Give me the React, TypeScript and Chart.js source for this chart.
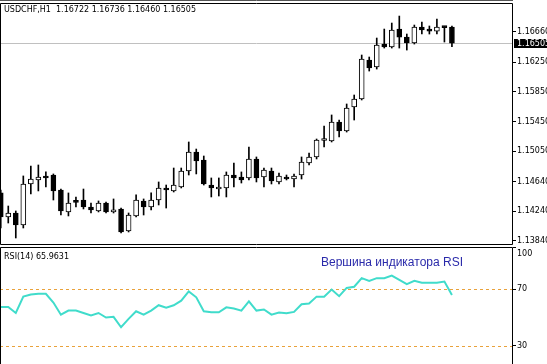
import React, { useEffect, useRef } from 'react';
import { Chart, registerables } from 'chart.js';

Chart.register(...registerables);

const SYMBOL_TITLE = 'USDCHF,H1  1.16722 1.16736 1.16460 1.16505';
const RSI_TITLE = 'RSI(14) 65.9631';
const RSI_NOTE = 'Вершина индикатора RSI';

const OPEN = [
  1.14487, 1.14163, 1.14217, 1.14055, 1.14608, 1.14662, 1.14702, 1.14729, 1.14527, 1.14231,
  1.14372, 1.14392, 1.14298, 1.14244, 1.14352, 1.14231, 1.14271, 1.13975, 1.14177, 1.14379,
  1.14298, 1.14392, 1.14554, 1.14514, 1.14567, 1.14783, 1.15039, 1.14931, 1.14594, 1.14540,
  1.14554, 1.14729, 1.14702, 1.14689, 1.14945, 1.14702, 1.14783, 1.14635, 1.14702, 1.14675,
  1.14729, 1.14891, 1.14972, 1.15194, 1.15187, 1.15443, 1.15322, 1.15645, 1.15753, 1.16279,
  1.16184, 1.16494, 1.16454, 1.16696, 1.16588, 1.16508, 1.16723, 1.16696, 1.16669, 1.16723,
  1.16722,
];
const HIGH = [
  1.14527, 1.14311, 1.14244, 1.14716, 1.14850, 1.14864, 1.14770, 1.14743, 1.14540, 1.14487,
  1.14433, 1.14540, 1.14352, 1.14379, 1.14365, 1.14406, 1.14284, 1.14217, 1.14460, 1.14406,
  1.14487, 1.14635, 1.14594, 1.14823, 1.14823, 1.15174, 1.15079, 1.14985, 1.14689, 1.14689,
  1.14770, 1.14891, 1.14770, 1.15106, 1.14972, 1.14823, 1.14823, 1.14756, 1.14729, 1.14743,
  1.14972, 1.15026, 1.15214, 1.15389, 1.15538, 1.15470, 1.15686, 1.15807, 1.16346, 1.16319,
  1.16575, 1.16696, 1.16777, 1.16871, 1.16629, 1.16750, 1.16791, 1.16737, 1.16831, 1.16730,
  1.16736,
];
const LOW = [
  1.14015, 1.14082, 1.13880, 1.14015, 1.14473, 1.14514, 1.14567, 1.14392, 1.14190, 1.14177,
  1.14298, 1.14271, 1.14217, 1.14231, 1.14217, 1.14217, 1.13948, 1.13961, 1.14163, 1.14190,
  1.14257, 1.14325, 1.14284, 1.14500, 1.14554, 1.14729, 1.14743, 1.14594, 1.14433, 1.14446,
  1.14433, 1.14567, 1.14621, 1.14662, 1.14635, 1.14567, 1.14608, 1.14608, 1.14662, 1.14567,
  1.14675, 1.14864, 1.14945, 1.15106, 1.15174, 1.15241, 1.15308, 1.15470, 1.15740, 1.16130,
  1.16157, 1.16440, 1.16440, 1.16440, 1.16413, 1.16494, 1.16629, 1.16629, 1.16629, 1.16521,
  1.16460,
];
const CLOSE = [
  1.14163, 1.14217, 1.14055, 1.14608, 1.14675, 1.14702, 1.14689, 1.14514, 1.14244, 1.14352,
  1.14359, 1.14298, 1.14257, 1.14352, 1.14231, 1.14257, 1.13961, 1.14190, 1.14392, 1.14298,
  1.14392, 1.14554, 1.14527, 1.14594, 1.14783, 1.15039, 1.14918, 1.14608, 1.14554, 1.14567,
  1.14729, 1.14689, 1.14662, 1.14945, 1.14689, 1.14796, 1.14648, 1.14716, 1.14675, 1.14716,
  1.14904, 1.14972, 1.15201, 1.15207, 1.15443, 1.15322, 1.15632, 1.15753, 1.16292, 1.16171,
  1.16481, 1.16454, 1.16683, 1.16588, 1.16508, 1.16723, 1.16683, 1.16669, 1.16723, 1.16716,
  1.16505,
];

const RSI_VALUES = [
  57.4, 57.4, 53.2, 64.8, 66.3, 66.8, 66.8, 60.6, 52.0, 54.9,
  54.9, 53.2, 51.5, 53.2, 50.0, 50.5, 43.1, 49.0, 54.4, 52.0,
  54.9, 58.7, 56.9, 58.7, 61.9, 68.5, 64.3, 54.4, 53.7, 53.7,
  57.2, 56.4, 54.9, 61.4, 54.9, 55.7, 52.0, 53.5, 53.0, 54.0,
  59.4, 59.9, 64.8, 64.8, 69.8, 65.1, 71.0, 71.8, 77.9, 76.0,
  77.9, 77.9, 79.7, 76.7, 73.7, 76.0, 74.7, 74.7, 74.7, 75.5,
  65.96,
];

const PRICE_TICKS = [1.1666, 1.1625, 1.1585, 1.1545, 1.1505, 1.1464, 1.1424, 1.1384];
const PRICE_MIN = 1.13799;
const PRICE_MAX = 1.17047;
const LAST_PRICE = 1.16505;
const RSI_TICKS = [100, 70, 30];
const RSI_LEVELS = [70, 30];

const X_MIN = -0.1;
const X_MAX = 68.12;
const AXIS_FONT = { family: 'DejaVu Sans', size: 8 };

const mainDecor = {
  id: 'mainDecor',
  beforeDatasetsDraw(chart: any) {
    const { ctx, chartArea: a, scales } = chart;
    const y = Math.round(scales.y.getPixelForValue(LAST_PRICE)) + 0.5;
    ctx.save();
    ctx.strokeStyle = '#c0c0c0';
    ctx.lineWidth = 1;
    ctx.beginPath();
    ctx.moveTo(a.left, y);
    ctx.lineTo(a.right, y);
    ctx.stroke();
    ctx.restore();
  },
  afterDraw(chart: any) {
    const { ctx, chartArea: a, scales } = chart;
    ctx.save();
    ctx.strokeStyle = '#000';
    ctx.lineWidth = 1;
    ctx.beginPath();
    ctx.moveTo(a.left + 0.5, a.top + 0.5);
    ctx.lineTo(a.right - 0.5, a.top + 0.5);
    ctx.lineTo(a.right - 0.5, a.bottom + 0.5);
    ctx.lineTo(a.left + 0.5, a.bottom + 0.5);
    ctx.closePath();
    ctx.stroke();
    ctx.strokeStyle = '#555';
    ctx.beginPath();
    ctx.moveTo(0, 0.5);
    ctx.lineTo(a.right, 0.5);
    ctx.stroke();
    ctx.font = '8px "DejaVu Sans"';
    ctx.fillStyle = '#000';
    ctx.textBaseline = 'middle';
    ctx.textAlign = 'left';
    ctx.fillText(SYMBOL_TITLE, 4, a.top + 6.5);
    const y = scales.y.getPixelForValue(LAST_PRICE);
    ctx.fillStyle = '#000';
    ctx.fillRect(a.right + 1, Math.round(y) - 4, 40, 9);
    ctx.fillStyle = '#fff';
    ctx.fillText(LAST_PRICE.toFixed(5), a.right + 4, y + 0.5);
    ctx.restore();
  },
};

const rsiDecor = {
  id: 'rsiDecor',
  beforeDatasetsDraw(chart: any) {
    const { ctx, chartArea: a, scales } = chart;
    ctx.save();
    ctx.strokeStyle = '#E9A23B';
    ctx.lineWidth = 1;
    ctx.setLineDash([3, 3]);
    RSI_LEVELS.forEach((lv) => {
      const y = Math.round(scales.y.getPixelForValue(lv)) + 0.5;
      ctx.beginPath();
      ctx.moveTo(a.left, y);
      ctx.lineTo(a.right, y);
      ctx.stroke();
    });
    ctx.restore();
  },
  afterDraw(chart: any) {
    const { ctx, chartArea: a } = chart;
    ctx.save();
    ctx.strokeStyle = '#000';
    ctx.lineWidth = 1;
    ctx.beginPath();
    ctx.moveTo(a.left + 0.5, a.bottom);
    ctx.lineTo(a.left + 0.5, a.top + 0.5);
    ctx.lineTo(a.right - 0.5, a.top + 0.5);
    ctx.lineTo(a.right - 0.5, a.bottom);
    ctx.stroke();
    ctx.font = '8px "DejaVu Sans"';
    ctx.fillStyle = '#000';
    ctx.textBaseline = 'middle';
    ctx.textAlign = 'left';
    ctx.fillText(RSI_TITLE, 4, a.top + 9.5);
    ctx.font = '12px "Liberation Sans"';
    ctx.fillStyle = '#2a2aaa';
    ctx.fillText(RSI_NOTE, 321, a.top + 16);
    ctx.restore();
  },
};

const yAxisBase = {
  position: 'right' as const,
  grid: { drawOnChartArea: false, drawTicks: true, tickLength: 3, color: '#000', tickColor: '#000' },
  border: { display: false },
};

export default function App() {
  const mainRef = useRef<HTMLCanvasElement | null>(null);
  const rsiRef = useRef<HTMLCanvasElement | null>(null);

  useEffect(() => {
    const bodies = OPEN.map((o, i) => ({ x: i, y: [o, CLOSE[i]] }));
    const wicks = LOW.map((l, i) => ({ x: i, y: [l, HIGH[i]] }));
    const main = new Chart(mainRef.current as HTMLCanvasElement, {
      type: 'bar',
      data: {
        datasets: [
          {
            label: 'body',
            data: bodies as any,
            backgroundColor: OPEN.map((o, i) => (CLOSE[i] >= o ? '#ffffff' : '#000000')),
            borderColor: '#000',
            borderWidth: 1,
            borderSkipped: false,
            barThickness: 5,
            minBarLength: 2,
            grouped: false,
            order: 0,
          } as any,
          {
            label: 'wick',
            data: wicks as any,
            backgroundColor: '#000',
            borderWidth: 0,
            barThickness: 1,
            grouped: false,
            order: 1,
          } as any,
        ],
      },
      options: {
        animation: false,
        responsive: false,
        events: [],
        layout: { padding: { top: 3, bottom: 2, left: 0, right: 0 } },
        plugins: { legend: { display: false }, tooltip: { enabled: false }, title: { display: false } },
        scales: {
          x: { type: 'linear', min: X_MIN, max: X_MAX, display: false, offset: false },
          y: {
            ...yAxisBase,
            min: PRICE_MIN,
            max: PRICE_MAX,
            afterBuildTicks: (s: any) => {
              s.ticks = PRICE_TICKS.map((v) => ({ value: v }));
            },
            afterFit: (s: any) => {
              s.width = 34;
              s.paddingTop = 0;
              s.paddingBottom = 0;
            },
            ticks: {
              padding: 1,
              color: '#000',
              font: AXIS_FONT,
              autoSkip: false,
              maxRotation: 0,
              callback: (v: any) => Number(v).toFixed(5),
            },
          } as any,
        },
      },
      plugins: [mainDecor],
    });

    const rsi = new Chart(rsiRef.current as HTMLCanvasElement, {
      type: 'line',
      data: {
        datasets: [
          {
            label: 'RSI',
            data: RSI_VALUES.map((v, i) => ({ x: i, y: v })),
            borderColor: '#40DCCB',
            borderWidth: 2,
            pointRadius: 0,
            tension: 0,
            fill: false,
          },
        ],
      },
      options: {
        animation: false,
        responsive: false,
        events: [],
        layout: { padding: { top: 2, bottom: 3, left: 0, right: 0 } },
        plugins: { legend: { display: false }, tooltip: { enabled: false }, title: { display: false } },
        scales: {
          x: { type: 'linear', min: X_MIN, max: X_MAX, display: false },
          y: {
            ...yAxisBase,
            min: 0,
            max: 100,
            afterBuildTicks: (s: any) => {
              s.ticks = RSI_TICKS.map((v) => ({ value: v }));
            },
            afterFit: (s: any) => {
              s.width = 34;
              s.paddingTop = 0;
              s.paddingBottom = 0;
            },
            ticks: {
              padding: 1,
              color: '#000',
              font: { ...AXIS_FONT, lineHeight: 1.75 },
              autoSkip: false,
              maxRotation: 0,
              callback: (v: any) => (Number(v) === 100 ? ['', '100'] : String(v)),
            },
          } as any,
        },
      },
      plugins: [rsiDecor],
    });

    return () => {
      main.destroy();
      rsi.destroy();
    };
  }, []);

  return (
    <div
      style={{
        position: 'fixed',
        left: 0,
        top: 0,
        width: 547,
        height: 364,
        overflow: 'hidden',
        background: '#fff',
      }}
    >
      <canvas ref={mainRef} width={547} height={246} style={{ position: 'absolute', left: 0, top: 0 }} />
      <canvas ref={rsiRef} width={547} height={146} style={{ position: 'absolute', left: 0, top: 245 }} />
    </div>
  );
}
